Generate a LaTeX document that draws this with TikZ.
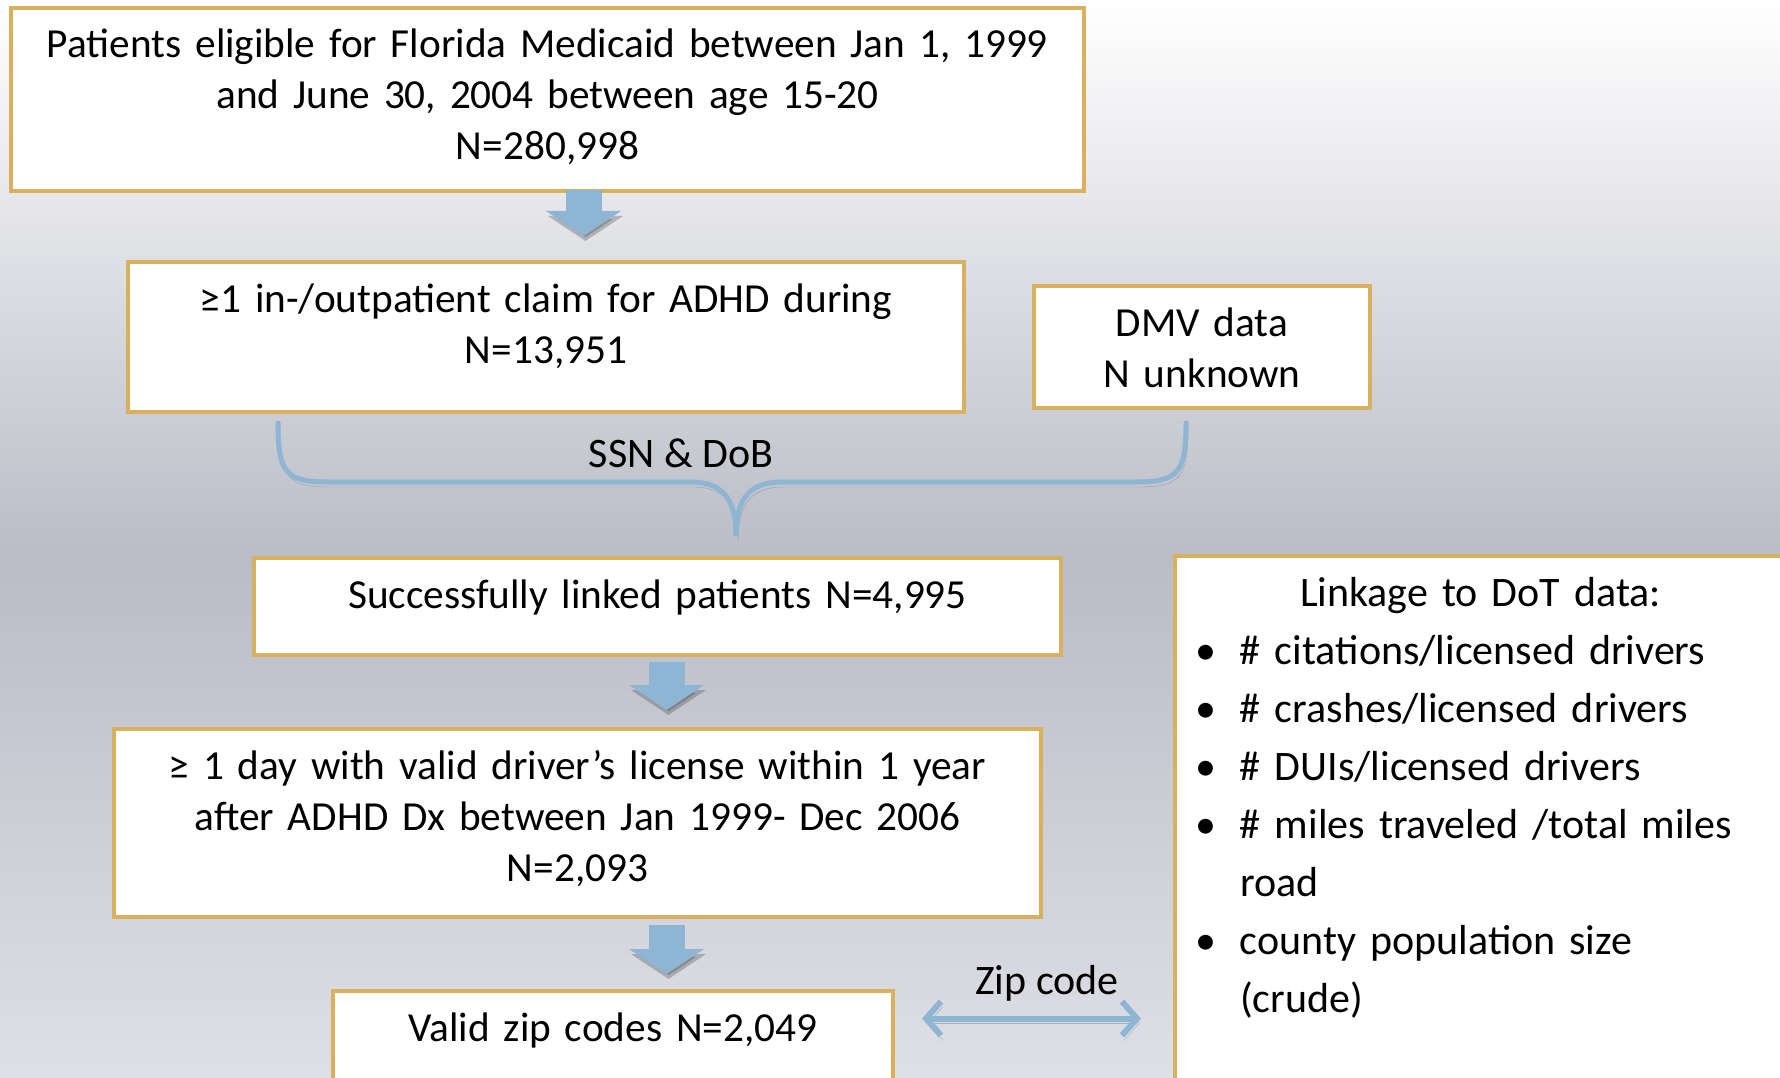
\documentclass[tikz,border=0pt]{standalone}
\usepackage{fontspec}
\setmainfont{Carlito}
\usetikzlibrary{arrows.meta,calc}
\definecolor{boxgold}{HTML}{D9B15E}
\definecolor{arrowblue}{HTML}{8FB5D5}
\definecolor{bgmid}{HTML}{BABCC6}
\definecolor{bgbot}{HTML}{DFE0E6}
\newcommand{\dotitem}{\par\hangindent=49pt\hangafter=1\noindent
  \makebox[49pt][l]{\hspace{4pt}\textbullet}}

\begin{document}
\begin{tikzpicture}[x=1pt,y=-1pt,font=\fontsize{42}{51}\selectfont]
  \tikzstyle{stage}=[draw=boxgold,line width=4pt,fill=white,anchor=north west,
                     align=center,inner xsep=6pt,inner ysep=21pt,text height=29pt,
                     font=\fontsize{41.3}{51}\selectfont]
  \tikzstyle{shadowed}=[preaction={draw=black!75,opacity=0.3,
                        transform canvas={shift={(2pt,-5pt)}}}]
  \tikzstyle{down}=[shadowed,draw=arrowblue,line width=36pt,
                    -{Triangle[width=74pt,length=25pt]}]
  \tikzstyle{link}=[shadowed,draw=arrowblue,line width=5pt,line cap=round]
  \tikzstyle{zip}=[shadowed,draw=arrowblue,line width=6pt,
                   {Straight Barb[width=34pt,length=15pt]}-{Straight Barb[width=34pt,length=15pt]}]

  \shade[top color=white,bottom color=bgmid] (0,0) rectangle (1780,560);
  \shade[top color=bgmid,bottom color=bgbot] (0,560) rectangle (1780,1078);
  \useasboundingbox (0,0) rectangle (1780,1078);

  \node[stage,text width=1061pt,text depth=112pt] (elig) at (9,6)
    {Patients eligible for Florida Medicaid between Jan 1, 1999\\
     and June 30, 2004 between age 15-20\\N=280,998};
  \node[stage,text width=824pt,text depth=79pt] (adhd) at (126,260)
    {≥1 in-/outpatient claim for ADHD during\\N=13,951};
  \node[stage,text width=324pt,text depth=51pt] (dmv) at (1032,284)
    {DMV data\\N unknown};
  \node[stage,text width=795pt,text depth=26pt] (linked) at (252,556)
    {Successfully linked patients N=4,995};
  \node[stage,text width=915pt,text depth=117pt] (license) at (112,727)
    {≥ 1 day with valid driver’s license within 1 year\\
     after ADHD Dx between Jan 1999- Dec 2006\\N=2,093};
  \node[stage,text width=548pt,text depth=48pt] (zipok) at (331,989)
    {Valid zip codes N=2,049};
  \node[stage,align=left,inner xsep=16pt,text width=600pt,text depth=483pt,
        font=\fontsize{42}{58}\selectfont] (dot) at (1173,554)
    {\hspace*{109pt}Linkage to DoT data:
     \dotitem \# citations/licensed drivers
     \dotitem \# crashes/licensed drivers
     \dotitem \# DUIs/licensed drivers
     \dotitem \# miles traveled /total miles\newline road
     \dotitem county population size\newline (crude)\par};

  \draw[down,shorten <=-3pt,shorten >=24pt]
    ([xshift=36pt]elig.south) -- ([xshift=36pt]elig.south |- adhd.north);
  \draw[down,shorten <=5pt,shorten >=17pt]
    ([xshift=9pt]linked.south) -- ([xshift=9pt]linked.south |- license.north);
  \draw[down,shorten <=6pt,shorten >=15pt]
    ([xshift=89pt]license.south) -- ([xshift=89pt]license.south |- zipok.north);

  \coordinate (bl) at (278,423);
  \coordinate (br) at (1186,423);
  \coordinate (bt) at (736,536);
  \draw[link] (bl) .. controls ($(bl)+(0,50)$) and ($(bl)+(8,59)$) .. ($(bl)+(50,59)$)
    -- ($(bt)+(-45,-54)$) .. controls ($(bt)+(-8,-54)$) and ($(bt)+(0,-30)$) .. (bt)
    .. controls ($(bt)+(0,-30)$) and ($(bt)+(8,-54)$) .. ($(bt)+(45,-54)$)
    -- ($(br)+(-50,59)$) .. controls ($(br)+(-8,59)$) and ($(br)+(0,50)$) .. (br);
  \node (ssn) at (681,453) {SSN \& DoB};

  \draw[zip,shorten <=27pt,shorten >=32pt]
    ([yshift=32pt]zipok.east) -- ([yshift=32pt]zipok.east -| dot.west)
    node[midway,xshift=13pt,yshift=35pt] (zipcode) {Zip code};
\end{tikzpicture}
\end{document}
